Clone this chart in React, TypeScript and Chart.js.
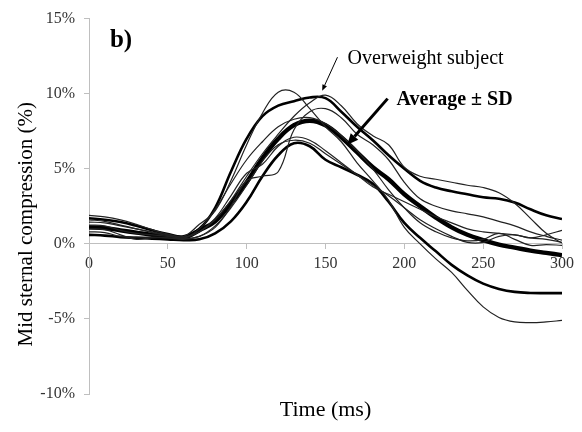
import { useEffect, useRef } from "react";
import { Chart, registerables } from "chart.js";

Chart.register(...registerables);

// Time samples (ms) and sternal compression curves (%)
const times = [0, 10, 20, 30, 40, 50, 60, 70, 80, 90, 100, 110, 120, 130, 140, 150, 160, 170, 180, 190, 200, 210, 220, 230, 240, 250, 260, 270, 280, 290, 300];

const meanCurve = [1.1, 1.05, 0.9, 0.75, 0.6, 0.5, 0.4, 0.9, 1.5, 2.7, 4.1, 5.7, 7.0, 7.9, 8.2, 7.9, 7.1, 6.1, 5.1, 4.3, 3.3, 2.5, 1.75, 1.1, 0.6, 0.25, -0.05, -0.25, -0.45, -0.6, -0.75];
const upperSD = [1.7, 1.6, 1.45, 1.2, 0.9, 0.65, 0.5, 1.0, 2.4, 4.8, 7.0, 8.5, 9.2, 9.5, 9.75, 9.7, 8.8, 7.8, 6.9, 5.9, 5.0, 4.2, 3.75, 3.5, 3.3, 3.1, 3.0, 2.75, 2.3, 1.9, 1.65];
const lowerSD = [0.6, 0.55, 0.45, 0.4, 0.35, 0.3, 0.25, 0.3, 0.7, 1.5, 2.8, 4.5, 5.9, 6.7, 6.5, 5.6, 5.1, 4.6, 4.0, 2.8, 1.4, 0.4, -0.5, -1.4, -2.1, -2.65, -3.0, -3.2, -3.27, -3.28, -3.28];

const subjectA = [1.9, 1.8, 1.6, 1.3, 0.95, 0.65, 0.5, 1.3, 2.2, 4.2, 6.6, 8.7, 10.1, 10.1, 9.0, 7.8, 6.8, 5.4, 4.2, 2.9, 1.1, 0.0, -1.0, -1.9, -3.1, -4.2, -4.9, -5.2, -5.25, -5.2, -5.1];
const overweightSubject = [1.45, 1.4, 1.2, 1.0, 0.8, 0.6, 0.45, 0.8, 1.6, 2.9, 4.5, 6.0, 7.3, 8.5, 9.4, 9.9, 9.2, 8.0, 7.2, 6.6, 5.1, 4.5, 4.3, 4.1, 3.9, 3.75, 3.4, 2.7, 1.7, 0.7, 0.05];
const subjectC = [0.8, 0.75, 0.5, 0.45, 0.45, 0.4, 0.3, 0.5, 1.1, 2.5, 4.2, 4.5, 4.8, 7.6, 8.8, 9.0, 8.4, 7.3, 6.6, 5.6, 4.1, 3.0, 2.5, 2.2, 2.0, 1.8, 1.5, 1.2, 0.8, 0.5, 0.25];
const subjectD = [1.25, 1.2, 0.9, 0.7, 0.6, 0.5, 0.4, 0.8, 1.7, 3.2, 4.7, 5.3, 6.5, 7.1, 6.9, 6.2, 5.4, 4.6, 3.8, 3.3, 2.8, 2.3, 1.8, 1.4, 1.0, 0.8, 0.7, 0.6, 0.4, 0.3, 0.1];
const subjectE = [1.0, 0.95, 0.6, 0.3, 0.4, 0.4, 0.35, 0.5, 1.2, 2.4, 3.9, 5.5, 6.6, 6.9, 6.7, 6.0, 5.3, 4.6, 3.9, 3.2, 2.4, 1.6, 1.0, 0.5, 0.1, 0.1, 0.5, 0.6, 0.4, 0.6, 0.9];
const subjectF = [1.6, 1.5, 1.25, 1.0, 0.75, 0.55, 0.4, 1.0, 2.3, 4.0, 5.6, 6.8, 7.8, 8.3, 8.4, 8.0, 7.2, 6.2, 5.0, 3.6, 2.4, 1.4, 0.8, 0.4, 0.2, 0.3, 0.7, 0.3, -0.1, -0.05, -0.1];

const thinSubjects = [subjectA, overweightSubject, subjectC, subjectD, subjectE, subjectF];

// Axis ranges
const xRange = [0, 300];
const xStep = 50;
const yRange = [-10, 15];
const yStep = 5;

const panelLabel = "b)";
const xTitle = "Time (ms)";
const yTitle = "Mid sternal compression (%)";
const overweightNote = "Overweight subject";
const averageNote = "Average \u00b1 SD";

const SERIF = "'Liberation Serif', 'Times New Roman', Times, serif";
const AXIS_GREY = "#bfbfbf";
const TICK_TEXT = "#333333";

const toPoints = (values: number[]) => times.map((t, i) => ({ x: t, y: values[i] }));

function drawArrow(
  ctx: CanvasRenderingContext2D,
  x1: number, y1: number, x2: number, y2: number,
  width: number, headLen: number, headHalf: number
) {
  const ang = Math.atan2(y2 - y1, x2 - x1);
  const bx = x2 - headLen * Math.cos(ang);
  const by = y2 - headLen * Math.sin(ang);
  ctx.beginPath();
  ctx.lineWidth = width;
  ctx.moveTo(x1, y1);
  ctx.lineTo(bx, by);
  ctx.stroke();
  ctx.beginPath();
  ctx.moveTo(x2, y2);
  ctx.lineTo(bx + headHalf * Math.sin(ang), by - headHalf * Math.cos(ang));
  ctx.lineTo(bx - headHalf * Math.sin(ang), by + headHalf * Math.cos(ang));
  ctx.closePath();
  ctx.fill();
}

const annotations = {
  id: "annotations",
  afterDraw(chart: any) {
    const { ctx, chartArea, scales } = chart;
    const px = (t: number) => scales.x.getPixelForValue(t);
    const py = (v: number) => scales.y.getPixelForValue(v);
    ctx.save();
    ctx.fillStyle = "#000";
    ctx.strokeStyle = "#000";

    // axis titles
    ctx.textAlign = "center";
    ctx.textBaseline = "middle";
    ctx.font = `22px ${SERIF}`;
    ctx.fillText(xTitle, (chartArea.left + chartArea.right) / 2, chartArea.bottom + 16);
    ctx.font = `21px ${SERIF}`;
    ctx.save();
    ctx.translate(26, (chartArea.top + chartArea.bottom) / 2 + 18);
    ctx.rotate(-Math.PI / 2);
    ctx.fillText(yTitle, 0, 0);
    ctx.restore();

    // panel label
    ctx.textAlign = "left";
    ctx.textBaseline = "alphabetic";
    ctx.font = `bold 25px ${SERIF}`;
    ctx.fillText(panelLabel, px(13.3), py(13.1));

    // notes
    ctx.font = `20px ${SERIF}`;
    ctx.fillText(overweightNote, px(164), py(11.97));
    ctx.font = `bold 20px ${SERIF}`;
    ctx.fillText(averageNote, px(195), py(9.27));

    // arrows
    drawArrow(ctx, px(157.6), py(12.43), px(147.9), py(10.2), 1, 6, 2.5);
    drawArrow(ctx, px(189.4), py(9.67), px(163.8), py(6.6), 3, 11, 5);
    ctx.restore();
  },
};

export default function App() {
  const canvasRef = useRef<HTMLCanvasElement | null>(null);

  useEffect(() => {
    if (!canvasRef.current) return;
    const thinSets = thinSubjects.map((s, i) => ({
      label: `subject ${i + 1}`,
      data: toPoints(s),
      borderColor: "#222",
      borderWidth: 1.2,
      pointRadius: 0,
      tension: 0.4,
      fill: false,
    }));
    const sdSets = [upperSD, lowerSD].map((s, i) => ({
      label: i === 0 ? "+SD" : "-SD",
      data: toPoints(s),
      borderColor: "#000",
      borderWidth: 2.6,
      pointRadius: 0,
      tension: 0.4,
      fill: false,
    }));
    const meanSet = {
      label: "Average",
      data: toPoints(meanCurve),
      borderColor: "#000",
      borderWidth: 4.4,
      pointRadius: 0,
      tension: 0.4,
      fill: false,
    };

    const chart = new Chart(canvasRef.current, {
      type: "line",
      data: { datasets: [...thinSets, ...sdSets, meanSet] as any },
      options: {
        animation: false,
        responsive: false,
        events: [],
        layout: { padding: { left: 0, right: 20, top: 14, bottom: 38 } },
        plugins: { legend: { display: false }, tooltip: { enabled: false } },
        scales: {
          x: {
            type: "linear",
            min: xRange[0],
            max: xRange[1],
            position: { y: 0 } as any,
            afterFit: (scale: any) => { scale.height = 0; },
            grid: { drawOnChartArea: false, drawTicks: true, tickLength: 5, color: AXIS_GREY },
            border: { color: AXIS_GREY, width: 1 },
            ticks: {
              stepSize: xStep,
              padding: 5,
              color: TICK_TEXT,
              font: { family: SERIF, size: 16 },
              maxRotation: 0,
            },
          },
          y: {
            min: yRange[0],
            max: yRange[1],
            afterFit: (scale: any) => { scale.width = 89; },
            grid: { drawOnChartArea: false, drawTicks: true, tickLength: 5, color: AXIS_GREY },
            border: { color: AXIS_GREY, width: 1 },
            ticks: {
              stepSize: yStep,
              padding: 9,
              color: TICK_TEXT,
              font: { family: SERIF, size: 16 },
              callback: (v: any) => `${v}%`,
            },
          },
        },
      },
      plugins: [annotations],
    });
    return () => chart.destroy();
  }, []);

  return (
    <div style={{ position: "absolute", left: 0, top: 0, width: 582, height: 432, background: "#fff" }}>
      <canvas ref={canvasRef} width={582} height={432} style={{ display: "block" }} />
    </div>
  );
}
